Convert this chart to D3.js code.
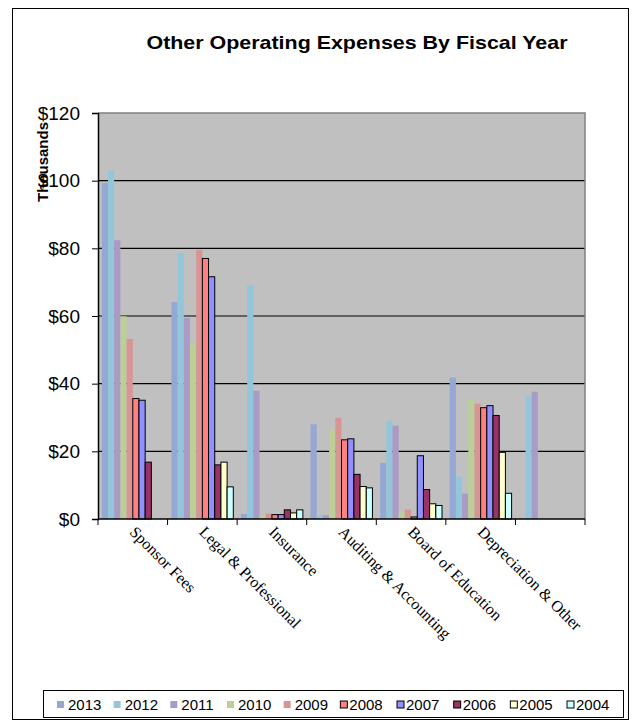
<!DOCTYPE html>
<html>
<head>
<meta charset="utf-8">
<script src="https://cdn.jsdelivr.net/npm/d3@7"></script>
<style>
  body { margin: 0; background: #fff; }
  svg { display: block; }
</style>
</head>
<body>
<div id="chart"></div>
<script>
const WIDTH = 640;
const HEIGHT = 725;

const categories = ["Sponsor Fees", "Legal & Professional", "Insurance",
  "Auditing & Accounting", "Board of Education", "Depreciation & Other", ""];
const years = ["2013", "2012", "2011", "2010", "2009", "2008", "2007", "2006", "2005", "2004"];
// values in thousands, one array per year, in category order
const v2013 = [99.3, 64.1, 1.5, 28.0, 16.6, 41.8, 0];
const v2012 = [103.0, 78.6, 69.1, 1.1, 29.0, 12.5, 36.2];
const v2011 = [82.4, 59.4, 37.9, 1.1, 27.6, 7.5, 37.6];
const v2010 = [59.9, 51.7, 1.1, 26.6, 1.9, 35.4, 0];
const v2009 = [53.2, 79.6, 1.6, 29.9, 2.8, 34.1, 0];
const v2008 = [35.6, 77.0, 1.3, 23.4, 0.6, 32.9, 0];
const v2007 = [35.1, 71.6, 1.3, 23.7, 18.7, 33.5, 0];
const v2006 = [16.8, 16.0, 2.7, 13.2, 8.7, 30.6, 0];
const v2005 = [0, 16.8, 1.8, 9.6, 4.5, 19.7, 0];
const v2004 = [0, 9.5, 2.7, 9.2, 4.0, 7.6, 0];
const seriesValues = [v2013, v2012, v2011, v2010, v2009, v2008, v2007, v2006, v2005, v2004];
const yTicks = [0, 20, 40, 60, 80, 100, 120];

const colors = ["#95a8d3", "#93c6da", "#a99bc6", "#bbcf96", "#d89594",
  "#ff8080", "#9090ff", "#993366", "#ffffcc", "#ccffff"];
const bordered = [false, false, false, false, false, true, true, true, true, true];

const plot = { left: 98, right: 585, top: 113, bottom: 519 };

const svg = d3.select("#chart").append("svg")
  .attr("width", WIDTH)
  .attr("height", HEIGHT);

// chart frame
svg.append("rect")
  .attr("x", 12.5).attr("y", 8.5)
  .attr("width", 616).attr("height", 711)
  .attr("fill", "#fff").attr("stroke", "#000").attr("stroke-width", 1);

// title
svg.append("text")
  .attr("x", 357).attr("y", 49)
  .attr("text-anchor", "middle")
  .attr("font-family", "Liberation Sans, Arial, sans-serif")
  .attr("font-weight", "bold")
  .attr("font-size", 19)
  .attr("textLength", 421)
  .attr("lengthAdjust", "spacingAndGlyphs")
  .text("Other Operating Expenses By Fiscal Year");

const x0 = d3.scaleBand()
  .domain(categories.map((c, i) => i))
  .range([plot.left, plot.right]);

const x1 = d3.scaleBand()
  .domain(years)
  .range([0, x0.bandwidth()])
  .paddingOuter(0.62);

const y = d3.scaleLinear()
  .domain([0, 120])
  .range([plot.bottom, plot.top]);

// plot background
svg.append("rect")
  .attr("x", plot.left).attr("y", plot.top)
  .attr("width", plot.right - plot.left).attr("height", plot.bottom - plot.top)
  .attr("fill", "#c0c0c0");

// gridlines
svg.append("g")
  .selectAll("line")
  .data(yTicks.filter(t => t > 0 && t < 120))
  .join("line")
  .attr("x1", plot.left).attr("x2", plot.right)
  .attr("y1", d => y(d)).attr("y2", d => y(d))
  .attr("stroke", "#000").attr("stroke-width", 1.2);

// top and right border of plot
svg.append("path")
  .attr("d", `M${plot.left},${plot.top}H${plot.right}V${plot.bottom}`)
  .attr("fill", "none").attr("stroke", "#808080").attr("stroke-width", 1.5);

// bars
const groups = svg.append("g")
  .selectAll("g")
  .data(years)
  .join("g")
  .attr("fill", (d, i) => colors[i]);

groups.each(function(yr, si) {
  const vals = seriesValues[si];
  d3.select(this).selectAll("rect")
    .data(vals.map((v, ci) => ({ v, ci })).filter(d => d.v > 0))
    .join("rect")
    .attr("x", d => x0(d.ci) + x1(yr))
    .attr("width", x1.bandwidth())
    .attr("y", d => y(d.v))
    .attr("height", d => y(0) - y(d.v))
    .attr("stroke", bordered[si] ? "#000" : "none")
    .attr("stroke-width", 1);
});

// y axis
const yAxis = svg.append("g")
  .attr("transform", `translate(${plot.left},0)`)
  .call(d3.axisLeft(y).tickValues(yTicks).tickSize(6).tickPadding(12)
    .tickFormat(d => "$" + d));
yAxis.select(".domain").attr("stroke", "#000").attr("stroke-width", 1.5);
yAxis.selectAll(".tick line").attr("stroke", "#000");
yAxis.selectAll("text")
  .attr("font-family", "Liberation Sans, Arial, sans-serif")
  .attr("font-size", 19)
  .attr("fill", "#000");

// y axis title
svg.append("text")
  .attr("transform", "translate(48,162) rotate(-90)")
  .attr("text-anchor", "middle")
  .attr("font-family", "Liberation Sans, Arial, sans-serif")
  .attr("font-weight", "bold")
  .attr("font-size", 15)
  .text("Thousands");

// x axis
const xAxisG = svg.append("g");
xAxisG.append("line")
  .attr("x1", plot.left).attr("x2", plot.right)
  .attr("y1", plot.bottom).attr("y2", plot.bottom)
  .attr("stroke", "#000").attr("stroke-width", 1.5);
xAxisG.selectAll(".xtick")
  .data(d3.range(categories.length + 1))
  .join("line")
  .attr("class", "xtick")
  .attr("x1", i => i < categories.length ? x0(i) : plot.right)
  .attr("x2", i => i < categories.length ? x0(i) : plot.right)
  .attr("y1", plot.bottom).attr("y2", plot.bottom + 6)
  .attr("stroke", "#000");

xAxisG.selectAll(".xlabel")
  .data(categories)
  .join("text")
  .attr("class", "xlabel")
  .attr("transform", (d, i) => `translate(${x0(i) + x0.bandwidth() / 2 - 4},${plot.bottom + 14}) rotate(45)`)
  .attr("font-family", "Liberation Serif, Times New Roman, serif")
  .attr("font-size", 16)
  .text(d => d);

// legend
const legend = svg.append("g");
legend.append("rect")
  .attr("x", 43.5).attr("y", 690.5)
  .attr("width", 580).attr("height", 27)
  .attr("fill", "#fff").attr("stroke", "#000");

const lx = d3.scalePoint()
  .domain(years)
  .range([57, 567]);

const items = legend.selectAll(".item")
  .data(years)
  .join("g")
  .attr("class", "item")
  .attr("transform", d => `translate(${lx(d)},705)`);

items.append("rect")
  .attr("x", 0).attr("y", -4)
  .attr("width", 7).attr("height", 7)
  .attr("fill", (d, i) => colors[i])
  .attr("stroke", (d, i) => bordered[i] ? "#000" : "none");

items.append("text")
  .attr("x", (d, i) => bordered[i] ? 9 : 11)
  .attr("y", 5)
  .attr("font-family", "Liberation Sans, Arial, sans-serif")
  .attr("font-size", 15)
  .text(d => d);
</script>
</body>
</html>
